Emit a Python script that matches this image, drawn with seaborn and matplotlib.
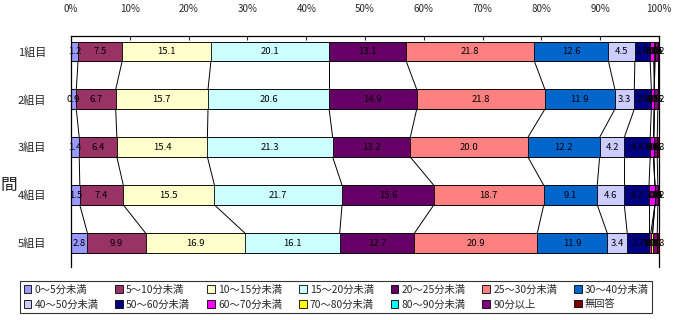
import matplotlib
matplotlib.use("Agg")
import matplotlib.pyplot as plt
from matplotlib.patches import Patch
import seaborn as sns
import numpy as np
import pandas as pd

# groups (top to bottom)
groups = ["1組目", "2組目", "3組目", "4組目", "5組目"]

# answer categories, in stacking order
categories = ["0～5分未満", "5～10分未満", "10～15分未満", "15～20分未満",
              "20～25分未満", "25～30分未満", "30～40分未満", "40～50分未満",
              "50～60分未満", "60～70分未満", "70～80分未満", "80～90分未満",
              "90分以上", "無回答"]

colors = ["#9999FF", "#993366", "#FFFFCC", "#CCFFFF", "#660066", "#FF8080",
          "#0066CC", "#CCCCFF", "#000080", "#FF00FF", "#FFFF00", "#00FFFF",
          "#800080", "#800000"]

# percentages per group, one list per category
v_0_5 = [1.2, 0.9, 1.4, 1.5, 2.8]
v_5_10 = [7.5, 6.7, 6.4, 7.4, 9.9]
v_10_15 = [15.1, 15.7, 15.4, 15.5, 16.9]
v_15_20 = [20.1, 20.6, 21.3, 21.7, 16.1]
v_20_25 = [13.1, 14.9, 13.2, 15.6, 12.7]
v_25_30 = [21.8, 21.8, 20.0, 18.7, 20.9]
v_30_40 = [12.6, 11.9, 12.2, 9.1, 11.9]
v_40_50 = [4.5, 3.3, 4.2, 4.6, 3.4]
v_50_60 = [2.6, 2.9, 4.4, 4.2, 3.7]
v_60_70 = [0.6, 0.5, 0.6, 1.0, 0.3]
v_70_80 = [0.2, 0.0, 0.0, 0.0, 0.3]
v_80_90 = [0.0, 0.0, 0.0, 0.0, 0.0]
v_90_over = [0.5, 0.6, 0.6, 0.5, 0.8]
v_no_answer = [0.2, 0.2, 0.3, 0.2, 0.3]

values = [v_0_5, v_5_10, v_10_15, v_15_20, v_20_25, v_25_30, v_30_40,
          v_40_50, v_50_60, v_60_70, v_70_80, v_80_90, v_90_over, v_no_answer]

sns.set_style("white")
plt.rcParams["font.family"] = ["Noto Sans CJK JP", "DejaVu Sans"]

data = np.array(values)          # (n_cat, n_group)
cum = np.cumsum(data, axis=0)
starts = cum - data

fig = plt.figure(figsize=(6.73, 3.2), dpi=100)
ax = fig.add_axes([71 / 673, 1 - 267 / 320, (659 - 71) / 673, (267 - 36) / 320])

bar_w = 0.41
# stacked bars: draw cumulative totals from the last category down
for k in range(len(categories) - 1, -1, -1):
    df = pd.DataFrame({"group": groups, "cum": cum[k]})
    sns.barplot(data=df, x="cum", y="group", orient="h", color=colors[k],
                saturation=1, width=bar_w, edgecolor="black", linewidth=0.6,
                ax=ax)

# value labels
for k in range(len(categories)):
    for i in range(len(groups)):
        x = starts[k, i] + data[k, i] / 2
        ax.text(x, i, f"{data[k, i]:.1f}", ha="center", va="center",
                fontsize=6.8, color="black")

# series lines between bars
for k in range(len(categories)):
    for i in range(len(groups) - 1):
        ax.plot([cum[k, i], cum[k, i + 1]], [i + bar_w / 2, i + 1 - bar_w / 2],
                color="black", lw=0.7)

ax.set_xlim(0, 100)
ax.set_ylim(4.5, -0.32)
ax.xaxis.tick_top()
ax.set_xticks(np.arange(0, 101, 10))
ax.set_xticklabels([f"{t}%" for t in range(0, 101, 10)], fontsize=7)
ax.tick_params(axis="x", direction="in", length=3, width=0.8, pad=16,
               top=True, bottom=False)
ax.set_yticks(range(len(groups)))
ax.set_yticklabels(groups, fontsize=8)
ax.tick_params(axis="y", length=0, pad=18)
ax.set_yticks([0.5, 1.5, 2.5, 3.5], minor=True)
ax.tick_params(axis="y", which="minor", direction="in", length=3, width=0.8)
ax.set_xlabel("")
ax.set_ylabel("")
for side in ["left", "top", "right"]:
    ax.spines[side].set_color("black")
    ax.spines[side].set_linewidth(0.9)
ax.spines["bottom"].set_visible(False)

fig.text(0.0, 1 - 185 / 320, "間", fontsize=12, va="center", ha="left")

# legend, filled row by row
handles = [Patch(facecolor=c, edgecolor="black", linewidth=0.6) for c in colors]
order = []
for c in range(7):
    order += [c, c + 7]
leg = fig.legend([handles[j] for j in order], [categories[j] for j in order],
                 ncol=7, loc="lower left", bbox_to_anchor=(20 / 673, 7 / 320),
                 frameon=True, fontsize=7.4, handlelength=0.75, handleheight=0.75,
                 handletextpad=0.3, columnspacing=1.65, labelspacing=0.45,
                 borderpad=0.35, fancybox=False, borderaxespad=0)
leg.get_frame().set_edgecolor("black")
leg.get_frame().set_linewidth(0.8)

fig.savefig("out.png", dpi=100)
